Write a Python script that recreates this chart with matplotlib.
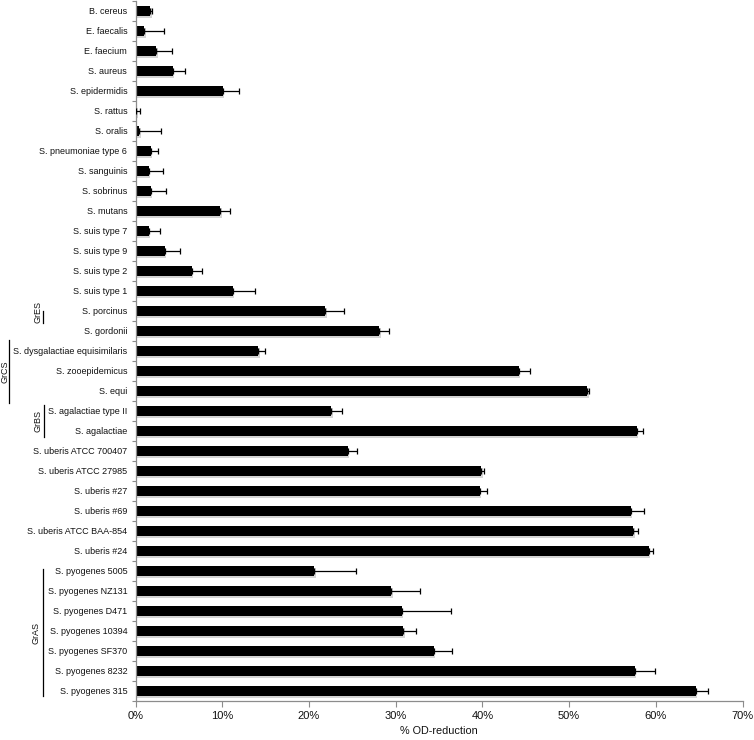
import numpy as np
import matplotlib.pyplot as plt
import matplotlib.transforms as mtransforms
import matplotlib.patheffects as pe
from matplotlib.ticker import PercentFormatter

plt.rcParams['font.family'] = ['Liberation Sans', 'DejaVu Sans']

# strains, top to bottom
strains = [
    'B. cereus', 'E. faecalis', 'E. faecium', 'S. aureus', 'S. epidermidis',
    'S. rattus', 'S. oralis', 'S. pneumoniae type 6', 'S. sanguinis', 'S. sobrinus',
    'S. mutans', 'S. suis type 7', 'S. suis type 9', 'S. suis type 2', 'S. suis type 1',
    'S. porcinus', 'S. gordonii', 'S. dysgalactiae equisimilaris', 'S. zooepidemicus',
    'S. equi', 'S. agalactiae type II', 'S. agalactiae', 'S. uberis ATCC 700407',
    'S. uberis ATCC 27985', 'S. uberis #27', 'S. uberis #69', 'S. uberis ATCC BAA-854',
    'S. uberis #24', 'S. pyogenes 5005', 'S. pyogenes NZ131', 'S. pyogenes D471',
    'S. pyogenes 10394', 'S. pyogenes SF370', 'S. pyogenes 8232', 'S. pyogenes 315',
]

# % OD-reduction
od_reduction = [
    1.7, 1.0, 2.4, 4.3, 10.05,
    0.1, 0.45, 1.8, 1.5, 1.8,
    9.8, 1.5, 3.4, 6.5, 11.2,
    21.9, 28.1, 14.15, 44.2,
    52.1, 22.6, 57.8, 24.5,
    39.9, 39.7, 57.1, 57.4,
    59.2, 20.6, 29.5, 30.7,
    30.9, 34.4, 57.6, 64.6,
]

# upper error bars
od_error = [
    0.15, 2.3, 1.8, 1.4, 1.9,
    0.4, 2.45, 0.8, 1.7, 1.7,
    1.1, 1.3, 1.7, 1.2, 2.6,
    2.1, 1.1, 0.75, 1.3,
    0.15, 1.25, 0.7, 1.0,
    0.3, 0.8, 1.5, 0.55,
    0.5, 4.8, 3.3, 5.7,
    1.5, 2.1, 2.3, 1.4,
]

# group labels: (name, first row, last row)
groups = [
    ('GrES', 15.0, 15.6),
    ('GrCS', 16.45, 19.6),
    ('GrBS', 19.7, 21.3),
    ('GrAS', 27.9, 34.25),
]

W, H = 754, 740
fig = plt.figure(figsize=(W / 100, H / 100), dpi=100)
ax = fig.add_axes([135.5 / W, 39 / H, 607 / W, 700 / H])

pos = np.arange(len(strains))
bars = ax.barh(pos, od_reduction, height=0.54, color='black', zorder=2)
for b in bars:
    b.set_path_effects([pe.SimplePatchShadow(offset=(1, -1.5), shadow_rgbFace='#888888', alpha=0.35),
                        pe.Normal()])
ax.errorbar(od_reduction, pos, xerr=[np.zeros(len(pos)), od_error], fmt='none',
            ecolor='black', elinewidth=0.9, capsize=2.4, capthick=0.9, zorder=3)

ax.set_xlim(0, 70)
ax.set_ylim(len(strains) - 0.5, -0.5)
ax.set_xticks(np.arange(0, 71, 10))
ax.xaxis.set_major_formatter(PercentFormatter(decimals=0))
ax.set_yticks(pos)
ax.set_yticklabels(strains, fontsize=6.5, color='#111111')
ax.set_yticks(np.arange(-0.5, len(strains), 1), minor=True)
ax.tick_params(axis='y', which='major', length=0, pad=6)
ax.tick_params(axis='y', which='minor', length=3, color='#8c8c8c', width=0.8)
ax.tick_params(axis='x', length=4, color='#8c8c8c', width=0.8, labelsize=8, pad=3, labelcolor='#111111')
ax.set_xlabel('% OD-reduction', fontsize=7.8, labelpad=4, color='#111111')

for s in ['top', 'right']:
    ax.spines[s].set_visible(False)
for s in ['left', 'bottom']:
    ax.spines[s].set_color('#8c8c8c')
    ax.spines[s].set_linewidth(0.9)

# group brackets on the far left
trans = mtransforms.blended_transform_factory(fig.transFigure, ax.transData)
group_x = {'GrES': (38, 43), 'GrCS': (5, 9), 'GrBS': (38, 44), 'GrAS': (36, 43)}
for name, r0, r1 in groups:
    tx, lx = group_x[name]
    ax.plot([lx / W, lx / W], [r0, r1], transform=trans, color='black', lw=0.9, clip_on=False)
    mid = (r0 + r1) / 2 if name != 'GrES' else r0 + 0.05
    ax.text(tx / W, mid, name, transform=trans, rotation=90, ha='center', va='center',
            fontsize=6.5, color='#111111')

fig.savefig('out.png', dpi=100)
